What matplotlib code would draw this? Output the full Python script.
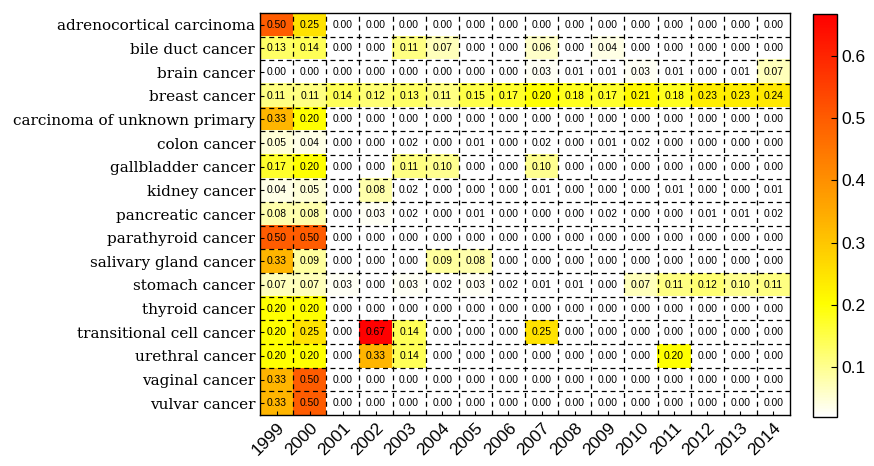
import numpy as np
import matplotlib
matplotlib.use("Agg")
import matplotlib.pyplot as plt
from matplotlib.colors import LinearSegmentedColormap

years = [str(y) for y in range(1999, 2015)]
cancers = ["adrenocortical carcinoma", "bile duct cancer", "brain cancer", "breast cancer",
           "carcinoma of unknown primary", "colon cancer", "gallbladder cancer", "kidney cancer",
           "pancreatic cancer", "parathyroid cancer", "salivary gland cancer", "stomach cancer",
           "thyroid cancer", "transitional cell cancer", "urethral cancer", "vaginal cancer",
           "vulvar cancer"]

adrenocortical = [0.50, 0.25, 0, 0, 0, 0, 0, 0, 0, 0, 0, 0, 0, 0, 0, 0]
bile_duct = [0.13, 0.14, 0, 0, 0.11, 0.07, 0, 0, 0.06, 0, 0.04, 0, 0, 0, 0, 0]
brain = [0, 0, 0, 0, 0, 0, 0, 0, 0.03, 0.01, 0.01, 0.03, 0.01, 0.00, 0.01, 0.07]
breast = [0.11, 0.11, 0.14, 0.12, 0.13, 0.11, 0.15, 0.17, 0.20, 0.18, 0.17, 0.21, 0.18, 0.23, 0.23, 0.24]
unknown_primary = [0.33, 0.20, 0, 0, 0, 0, 0, 0, 0, 0, 0, 0, 0, 0, 0, 0]
colon = [0.05, 0.04, 0.00, 0.00, 0.02, 0.00, 0.01, 0.00, 0.02, 0.00, 0.01, 0.02, 0.00, 0.00, 0.00, 0.00]
gallbladder = [0.17, 0.20, 0, 0, 0.11, 0.10, 0, 0, 0.10, 0, 0, 0, 0, 0, 0, 0]
kidney = [0.04, 0.05, 0.00, 0.08, 0.02, 0, 0, 0, 0.01, 0, 0, 0, 0.01, 0, 0, 0.01]
pancreatic = [0.08, 0.08, 0.00, 0.03, 0.02, 0.00, 0.01, 0.00, 0.00, 0.00, 0.02, 0.00, 0.00, 0.01, 0.01, 0.02]
parathyroid = [0.50, 0.50, 0, 0, 0, 0, 0, 0, 0, 0, 0, 0, 0, 0, 0, 0]
salivary = [0.33, 0.09, 0, 0, 0, 0.09, 0.08, 0, 0, 0, 0, 0, 0, 0, 0, 0]
stomach = [0.07, 0.07, 0.03, 0.00, 0.03, 0.02, 0.03, 0.02, 0.01, 0.01, 0.00, 0.07, 0.11, 0.12, 0.10, 0.11]
thyroid = [0.20, 0.20, 0, 0, 0, 0, 0, 0, 0, 0, 0, 0, 0, 0, 0, 0]
transitional = [0.20, 0.25, 0.00, 0.67, 0.14, 0, 0, 0, 0.25, 0, 0, 0, 0, 0, 0, 0]
urethral = [0.20, 0.20, 0.00, 0.33, 0.14, 0, 0, 0, 0, 0, 0, 0, 0.20, 0, 0, 0]
vaginal = [0.33, 0.50, 0, 0, 0, 0, 0, 0, 0, 0, 0, 0, 0, 0, 0, 0]
vulvar = [0.33, 0.50, 0, 0, 0, 0, 0, 0, 0, 0, 0, 0, 0, 0, 0, 0]

data = np.array([adrenocortical, bile_duct, brain, breast, unknown_primary, colon, gallbladder,
                 kidney, pancreatic, parathyroid, salivary, stomach, thyroid, transitional,
                 urethral, vaginal, vulvar])

cmap = LinearSegmentedColormap.from_list(
    "wyr", [(0.0, (1, 1, 1)), (0.28, (1, 1, 0)), (0.5, (1, 0.68, 0)),
            (0.75, (1, 0.35, 0)), (1.0, (1, 0, 0))])
vmin, vmax = 0.02, 0.667

fig = plt.figure(figsize=(8.74, 4.66), dpi=100)
ax = fig.add_axes([0.2975, 0.1094, 0.6064, 0.8627])
cax = fig.add_axes([0.930, 0.105, 0.0275, 0.865])

nr, nc = data.shape
im = ax.imshow(data, cmap=cmap, vmin=vmin, vmax=vmax, aspect="auto",
               interpolation="nearest", extent=(-0.5, nc - 0.5, nr - 0.5, -0.5))

for i in range(nr):
    for j in range(nc):
        ax.text(j, i, f"{data[i, j]:.2f}", ha="center", va="center",
                fontsize=7.4, family="Liberation Sans", color="black")

for k in range(1, nc):
    ax.axvline(k - 0.5, color="black", lw=0.9, ls=(0, (4, 3)))
for k in range(1, nr):
    ax.axhline(k - 0.5, color="black", lw=0.9, ls=(0, (4, 3)))

ax.set_xlim(-0.5, nc - 0.5)
ax.set_ylim(nr - 0.5, -0.5)
ax.set_xticks(range(nc))
ax.set_xticklabels(years, rotation=45, ha="right", rotation_mode="anchor",
                   fontsize=12.5, family="Liberation Sans")
ax.set_yticks(range(nr))
ax.set_yticklabels(cancers, fontsize=11, family="DejaVu Serif")
ax.tick_params(axis="both", direction="in", length=3, width=0.8)
for s in ax.spines.values():
    s.set_linewidth(1.0)

cb = fig.colorbar(im, cax=cax)
cb.set_ticks([0.1, 0.2, 0.3, 0.4, 0.5, 0.6])
cb.ax.tick_params(labelsize=12.5, direction="in", length=4)
for t in cb.ax.get_yticklabels():
    t.set_family("Liberation Sans")
cb.outline.set_linewidth(1.0)

fig.savefig("out.png", dpi=100)
